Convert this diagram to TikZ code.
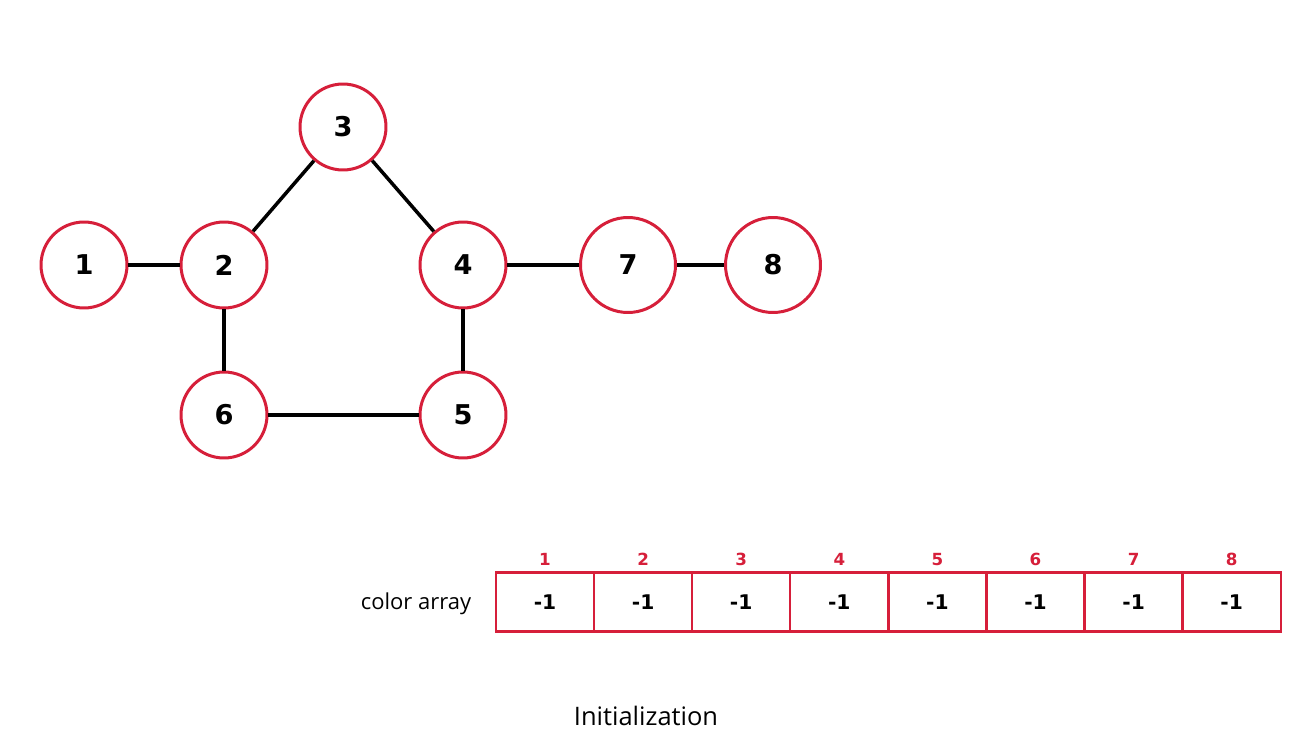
\documentclass[tikz,border=0pt]{standalone}
\usepackage{fontspec}
\setmainfont{Open Sans}
\newfontfamily\numfont{DejaVu Sans}
\usepackage{tikz}
\usepackage{xcolor}
\usetikzlibrary{positioning,calc}
\definecolor{ink}{HTML}{000000}
\definecolor{vred}{HTML}{D61F3A}
\tikzset{
  vertex/.style={circle,draw=vred,fill=white,line width=1.7pt,
                 minimum size=1.72cm,inner sep=0pt,
                 font=\numfont\bfseries\fontsize{15.5}{18}\selectfont},
  bigvertex/.style={vertex,minimum size=1.9cm},
  link/.style={draw=ink,line width=2pt},
  cell/.style={draw=vred,line width=1.3pt,minimum width=1.96cm,
               minimum height=1.18cm,inner sep=0pt,
               font=\numfont\bfseries\fontsize{11.5}{13}\selectfont},
  idx/.style={anchor=base,font=\numfont\bfseries\fontsize{9.5}{11}\selectfont,text=vred},
  caption/.style={font=\fontsize{12.5}{15}\selectfont}
}

\begin{document}
\begin{tikzpicture}[x=0.02cm,y=-0.02cm]
  \useasboundingbox (0,0) rectangle (1309,737);
  % graph
  \node[vertex] (v1) at (84,265) {1};
  \node[vertex] (v2) at (224,265) {2};
  \node[vertex] (v3) at (343,127) {3};
  \node[vertex] (v4) at (463,265) {4};
  \node[vertex] (v6) at (224,415) {6};
  \node[vertex] (v5) at (463,415) {5};
  \node[bigvertex] (v7) at (628,265) {7};
  \node[bigvertex] (v8) at (773,265) {8};
  \draw[link] (v1)--(v2);
  \draw[link] (v2)--(v3);
  \draw[link] (v3)--(v4);
  \draw[link] (v4.east)--(v7.west);
  \draw[link] (v7)--(v8);
  \draw[link] (v2)--(v6);
  \draw[link] (v4)--(v5);
  \draw[link] (v6)--(v5);
  % color array
  \foreach \i in {1,...,8} {
    \node[cell] (c\i) at ({496+98.1*(\i-1)+49},602) {-1};
    \node[idx] (n\i) at ($(c\i.north)+(0,-6)$) {\i};
  }
  \node[caption] (lbl) at (416,604) {color array};
  \node[caption,font=\fontsize{14.5}{17}\selectfont] (title) at (646,716) {Initialization};
\end{tikzpicture}
\end{document}
